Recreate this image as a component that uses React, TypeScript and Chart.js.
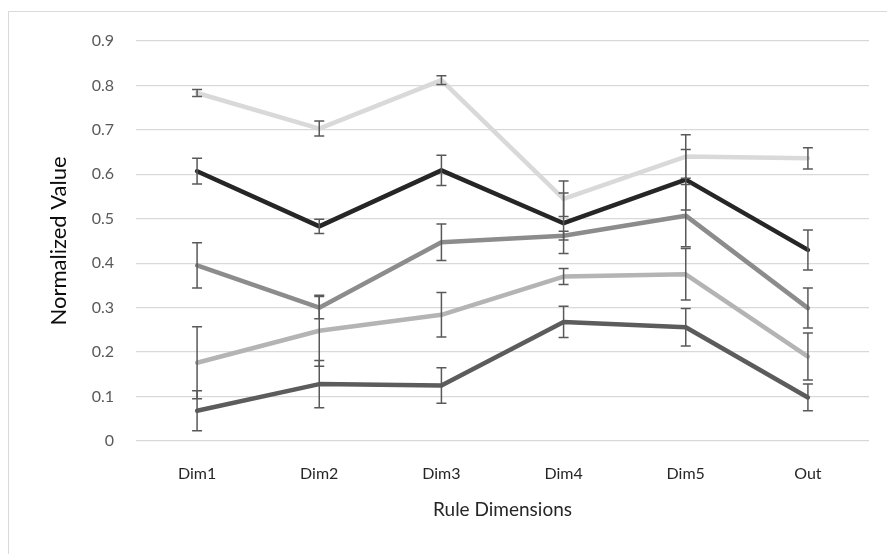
import React, { useEffect, useRef } from "react";
import { Chart, registerables } from "chart.js";

Chart.register(...registerables);

const categories = ["Dim1", "Dim2", "Dim3", "Dim4", "Dim5", "Out"];
const yTickLabels = ["0", "0.1", "0.2", "0.3", "0.4", "0.5", "0.6", "0.7", "0.8", "0.9"];

const seriesLightTop = [0.783, 0.703, 0.812, 0.545, 0.64, 0.636];
const errLightTop = [0.008, 0.017, 0.01, 0.04, 0.049, 0.024];

const seriesBlack = [0.607, 0.483, 0.609, 0.49, 0.588, 0.43];
const errBlack = [0.029, 0.016, 0.034, 0.068, 0.068, 0.045];

const seriesMid = [0.395, 0.3, 0.447, 0.462, 0.507, 0.299];
const errMid = [0.051, 0.025, 0.041, 0.01, 0.07, 0.045];

const seriesLight = [0.176, 0.248, 0.284, 0.37, 0.375, 0.19];
const errLight = [0.081, 0.08, 0.05, 0.018, 0.058, 0.053];

const seriesDark = [0.068, 0.128, 0.125, 0.268, 0.256, 0.098];
const errDark = [0.045, 0.053, 0.04, 0.035, 0.042, 0.03];

const FONT = 'Lato, "Open Sans", sans-serif';

const errorBarPlugin = {
  id: "errorBars",
  afterDatasetsDraw(chart: any) {
    const ctx = chart.ctx;
    const yScale = chart.scales.y;
    ctx.save();
    ctx.strokeStyle = "#595959";
    ctx.lineWidth = 1.5;
    chart.data.datasets.forEach((ds: any, i: number) => {
      const meta = chart.getDatasetMeta(i);
      const errs: number[] = ds.errors || [];
      meta.data.forEach((pt: any, j: number) => {
        const v = ds.data[j];
        const e = errs[j];
        if (e == null) return;
        const x = pt.x;
        const yT = yScale.getPixelForValue(v + e);
        const yB = yScale.getPixelForValue(v - e);
        ctx.beginPath();
        ctx.moveTo(x, yT);
        ctx.lineTo(x, yB);
        ctx.moveTo(x - 5, yT);
        ctx.lineTo(x + 5, yT);
        ctx.moveTo(x - 5, yB);
        ctx.lineTo(x + 5, yB);
        ctx.stroke();
      });
    });
    ctx.restore();
  },
};

export default function App() {
  const ref = useRef<HTMLCanvasElement | null>(null);
  useEffect(() => {
    document.body.style.margin = "0";
    document.body.style.overflow = "hidden";
    const mk = (data: number[], errors: number[], color: string) => ({
      data,
      errors,
      borderColor: color,
      backgroundColor: color,
      borderWidth: 4.5,
      pointRadius: 0,
      pointHoverRadius: 0,
      tension: 0,
      fill: false,
      borderJoinStyle: "round",
      borderCapStyle: "round",
    });
    const chart = new Chart(ref.current as HTMLCanvasElement, {
      type: "line",
      data: {
        labels: categories,
        datasets: [
          mk(seriesLightTop, errLightTop, "#d9d9d9"),
          mk(seriesBlack, errBlack, "#262626"),
          mk(seriesMid, errMid, "#8c8c8c"),
          mk(seriesLight, errLight, "#b4b4b4"),
          mk(seriesDark, errDark, "#5c5c5c"),
        ] as any,
      },
      options: {
        animation: false,
        responsive: false,
        maintainAspectRatio: false,
        events: [],
        layout: { padding: { top: 41, right: 18, left: 0, bottom: 0 } },
        plugins: { legend: { display: false }, tooltip: { enabled: false }, title: { display: false } },
        scales: {
          x: {
            offset: true,
            grid: { display: false, offset: true },
            border: { display: false },
            ticks: { color: "#262626", font: { family: FONT, size: 16 }, padding: 15, maxRotation: 0 },
            title: {
              display: true,
              text: "Rule Dimensions",
              color: "#262626",
              font: { family: FONT, size: 19 },
              padding: { top: 0, bottom: 33 },
            },
            afterFit: (s: any) => {
              s.height = 113;
            },
          },
          y: {
            min: 0,
            max: 0.9,
            grid: { color: "#d9d9d9", lineWidth: 1.3, drawTicks: false },
            border: { display: false },
            ticks: {
              stepSize: 0.1,
              color: "#595959",
              font: { family: FONT, size: 16 },
              padding: 22,
              callback: (_v: any, i: number) => yTickLabels[i],
            },
            title: {
              display: true,
              text: "Normalized Value",
              color: "#0d0d0d",
              font: { family: FONT, size: 22 },
              padding: { top: 46, bottom: 0 },
            },
            afterFit: (s: any) => {
              s.width = 136;
            },
          },
        },
      },
      plugins: [errorBarPlugin],
    } as any);
    return () => chart.destroy();
  }, []);
  return (
    <div style={{ position: "fixed", left: 0, top: 0, width: 887, height: 554, overflow: "hidden", background: "#fff" }}>
      <div
        style={{
          position: "absolute",
          left: 8,
          top: 11,
          width: 1000,
          height: 1000,
          border: "1px solid #d9d9d9",
          boxSizing: "border-box",
        }}
      />
      <canvas ref={ref} width={887} height={554} style={{ position: "absolute", left: 0, top: 0 }} />
    </div>
  );
}
